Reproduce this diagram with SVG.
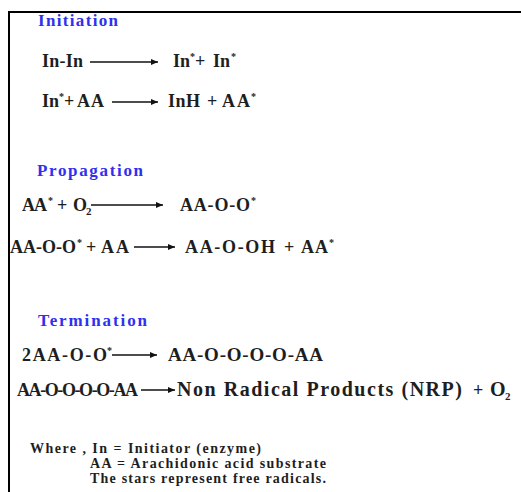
<svg xmlns="http://www.w3.org/2000/svg" width="521" height="492" viewBox="0 0 521 492">
<defs>
<style>
text{font-family:"Liberation Serif","Times New Roman",serif;font-weight:bold;fill:#1e1e1e}
.t{font-size:18px}
.L{font-size:19px}
.X{font-size:20px}
.h{font-size:17px;fill:#3030f0}
.f{font-size:14px}
.s{font-size:10px}
.b{font-size:11px}
.c line{stroke:#111;stroke-width:1.3}
</style>
<marker id="ah" markerUnits="userSpaceOnUse" markerWidth="7" markerHeight="6" refX="7" refY="3" orient="auto"><path d="M0,0 L7,3 L0,6 z" fill="#111"/></marker>
</defs>
<rect width="521" height="492" fill="#fff"/>
<g id="frame"><path d="M9,492 V12 H521" fill="none" stroke="#000" stroke-width="2"/></g>

<g id="initiation">
<text class="h" x="38" y="26" textLength="80" lengthAdjust="spacing">Initiation</text>
</g>
<g id="i1">
<text class="t" x="42" y="67" textLength="41" lengthAdjust="spacing">In-In</text>
<text class="t" x="173" y="67">In</text>
<text class="s" x="190" y="60">*</text>
<text class="t" x="195" y="67">+</text>
<text class="t" x="213" y="67">In</text>
<text class="s" x="231" y="60">*</text>
</g>
<g id="i2">
<text class="t" x="42" y="107">In</text>
<text class="s" x="59" y="100">*</text>
<text class="t" x="64" y="107">+</text>
<text class="t" x="77" y="107" textLength="27" lengthAdjust="spacing">AA</text>
<text class="t" x="168" y="107" textLength="32" lengthAdjust="spacing">InH</text>
<text class="t" x="207" y="107">+</text>
<text class="t" x="222" y="107" textLength="28" lengthAdjust="spacing">AA</text>
<text class="s" x="251" y="100">*</text>
</g>

<g id="propagation">
<text class="h" x="37" y="176" textLength="106" lengthAdjust="spacing">Propagation</text>
</g>
<g id="p1">
<text class="t" x="22" y="211" textLength="25" lengthAdjust="spacing">AA</text>
<text class="s" x="48" y="204">*</text>
<text class="t" x="57" y="211">+</text>
<text class="t" x="73" y="211">O</text>
<text class="b" x="86" y="215">2</text>
<text class="t" x="180" y="211" textLength="70" lengthAdjust="spacing">AA-O-O</text>
<text class="s" x="251" y="204">*</text>
</g>
<g id="p2">
<text class="t" x="10" y="253" textLength="66" lengthAdjust="spacing">AA-O-O</text>
<text class="s" x="77" y="246">*</text>
<text class="t" x="86" y="253">+</text>
<text class="t" x="101" y="253" textLength="28" lengthAdjust="spacing">AA</text>
<text class="t" x="185" y="253" textLength="90" lengthAdjust="spacing">AA-O-OH</text>
<text class="t" x="284" y="253">+</text>
<text class="t" x="301" y="253" textLength="27" lengthAdjust="spacing">AA</text>
<text class="s" x="329" y="246">*</text>
</g>

<g id="termination">
<text class="h" x="38" y="326" textLength="109" lengthAdjust="spacing">Termination</text>
</g>
<g id="t1">
<text class="t" x="22" y="361" textLength="85" lengthAdjust="spacing">2AA-O-O</text>
<text class="s" x="107" y="354">*</text>
<text class="L" x="168" y="361" textLength="155" lengthAdjust="spacing">AA-O-O-O-O-AA</text>
</g>
<g id="t2">
<text class="t" x="17" y="396" textLength="121" lengthAdjust="spacing">AA-O-O-O-O-AA</text>
<text class="X" x="177" y="396" textLength="285" lengthAdjust="spacing">Non Radical Products (NRP)</text>
<text class="t" x="473" y="396">+</text>
<text class="X" x="490" y="396">O</text>
<text class="b" x="505" y="400">2</text>
</g>

<g id="legend">
<text class="f" x="30" y="453" textLength="231" lengthAdjust="spacing">Where , In = Initiator (enzyme)</text>
<text class="f" x="90" y="468" textLength="236" lengthAdjust="spacing">AA = Arachidonic acid substrate</text>
<text class="f" x="90" y="483" textLength="236" lengthAdjust="spacing">The stars represent free radicals.</text>
</g>

<g id="connectors" class="c">
<line x1="90" y1="62" x2="158" y2="62" marker-end="url(#ah)"/>
<line x1="112" y1="102" x2="158" y2="102" marker-end="url(#ah)"/>
<line x1="91" y1="205" x2="163" y2="205" marker-end="url(#ah)"/>
<line x1="134" y1="247" x2="175" y2="247" marker-end="url(#ah)"/>
<line x1="112" y1="355" x2="157" y2="355" marker-end="url(#ah)"/>
<line x1="141" y1="390" x2="175" y2="390" marker-end="url(#ah)"/>
</g>
</svg>
